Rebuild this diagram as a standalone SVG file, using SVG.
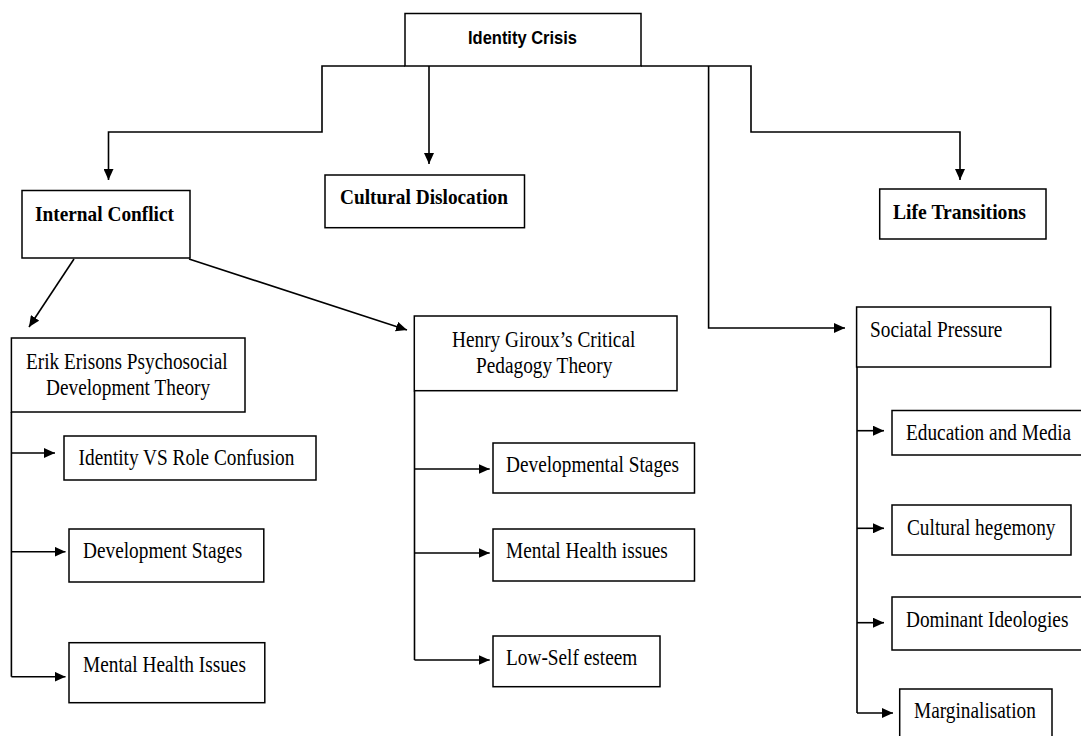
<svg xmlns="http://www.w3.org/2000/svg" width="1081" height="736" viewBox="0 0 1081 736">
<style>
.box{fill:#fff;stroke:#000;stroke-width:1.5}
.conn{fill:none;stroke:#000;stroke-width:1.6;marker-end:url(#arr)}
.line{fill:none;stroke:#000;stroke-width:1.6}
.t{font-family:"Liberation Serif","Times New Roman",serif;font-size:23px;fill:#000}
.tb{font-family:"Liberation Serif","Times New Roman",serif;font-size:21.5px;font-weight:bold;fill:#000}
.ts{font-family:"Liberation Sans",Arial,sans-serif;font-size:19px;font-weight:bold;fill:#000}
</style>
<defs>
<marker id="arr" markerUnits="userSpaceOnUse" markerWidth="11" markerHeight="10" refX="11" refY="5" orient="auto">
<path d="M0,0 L11,5 L0,10 z" fill="#000"/>
</marker>
</defs>
<rect width="1081" height="736" fill="#fff"/>
<g id="connectors">
<path class="conn" d="M405,66 H322 V132 H108.5 V180"/>
<path class="conn" d="M429,66 V164"/>
<path class="conn" d="M641,66 H751 V132 H960 V180"/>
<path class="conn" d="M708.6,66 V328 H845"/>
<path class="conn" d="M74,259 L29,327"/>
<path class="conn" d="M189,259 L407,330"/>
<path class="line" d="M11.4,412 V676.7"/>
<path class="conn" d="M11.4,453 H55"/>
<path class="conn" d="M11.4,551.7 H65.5"/>
<path class="conn" d="M11.4,676.7 H65.5"/>
<path class="line" d="M414.5,391 V660"/>
<path class="conn" d="M414.5,469 H489.7"/>
<path class="conn" d="M414.5,553 H489.7"/>
<path class="conn" d="M414.5,660 H489.7"/>
<path class="line" d="M857,367 V713"/>
<path class="conn" d="M857,430.7 H884"/>
<path class="conn" d="M857,528.3 H884"/>
<path class="conn" d="M857,622.7 H884"/>
<path class="conn" d="M857,713 H893"/>
</g>
<g id="identity-crisis">
<rect class="box" x="405" y="13.5" width="236" height="52.5"/>
<text class="ts" x="468" y="44" textLength="109" lengthAdjust="spacingAndGlyphs">Identity Crisis</text>
</g>
<g id="internal-conflict">
<rect class="box" x="22" y="190.5" width="168" height="67.5"/>
<text class="tb" x="35" y="221" textLength="139" lengthAdjust="spacingAndGlyphs">Internal Conflict</text>
</g>
<g id="cultural-dislocation">
<rect class="box" x="325" y="175" width="199.5" height="52.7"/>
<text class="tb" x="340" y="204" textLength="168" lengthAdjust="spacingAndGlyphs">Cultural Dislocation</text>
</g>
<g id="life-transitions">
<rect class="box" x="879.7" y="189" width="166.3" height="50"/>
<text class="tb" x="893" y="219" textLength="133" lengthAdjust="spacingAndGlyphs">Life Transitions</text>
</g>
<g id="erik">
<rect class="box" x="11.4" y="338" width="233.6" height="74"/>
<text class="t" transform="matrix(0.84 0 0 1 26 369)">Erik Erisons Psychosocial</text>
<text class="t" transform="matrix(0.84 0 0 1 46 395)">Development Theory</text>
</g>
<g id="henry">
<rect class="box" x="414.3" y="316" width="262.7" height="74.7"/>
<text class="t" transform="matrix(0.84 0 0 1 452 347)">Henry Giroux’s Critical</text>
<text class="t" transform="matrix(0.84 0 0 1 476 373)">Pedagogy Theory</text>
</g>
<g id="sociatal">
<rect class="box" x="856.6" y="307" width="194.1" height="60"/>
<text class="t" transform="matrix(0.84 0 0 1 870 337)">Sociatal Pressure</text>
</g>
<g id="identity-vs-role">
<rect class="box" x="64" y="436" width="252" height="44"/>
<text class="t" transform="matrix(0.84 0 0 1 78.6 465)">Identity VS Role Confusion</text>
</g>
<g id="development-stages">
<rect class="box" x="69" y="529" width="194.8" height="53"/>
<text class="t" transform="matrix(0.84 0 0 1 83 558)">Development Stages</text>
</g>
<g id="mental-health-issues-erik">
<rect class="box" x="69" y="642.7" width="195.8" height="60"/>
<text class="t" transform="matrix(0.84 0 0 1 83 672)">Mental Health Issues</text>
</g>
<g id="developmental-stages">
<rect class="box" x="493" y="443" width="201.5" height="50"/>
<text class="t" transform="matrix(0.84 0 0 1 506 472)">Developmental Stages</text>
</g>
<g id="mental-health-issues-henry">
<rect class="box" x="493" y="529" width="201.5" height="52"/>
<text class="t" transform="matrix(0.84 0 0 1 506 558)">Mental Health issues</text>
</g>
<g id="low-self-esteem">
<rect class="box" x="493" y="636" width="167" height="50.7"/>
<text class="t" transform="matrix(0.84 0 0 1 506 665)">Low-Self esteem</text>
</g>
<g id="education-media">
<rect class="box" x="892" y="410.5" width="200" height="44.5"/>
<text class="t" transform="matrix(0.84 0 0 1 906 439.5)">Education and Media</text>
</g>
<g id="cultural-hegemony">
<rect class="box" x="892" y="505" width="179" height="50"/>
<text class="t" transform="matrix(0.84 0 0 1 907 535)">Cultural hegemony</text>
</g>
<g id="dominant-ideologies">
<rect class="box" x="892" y="597" width="200" height="53"/>
<text class="t" transform="matrix(0.84 0 0 1 906 627)">Dominant Ideologies</text>
</g>
<g id="marginalisation">
<rect class="box" x="899.7" y="689" width="152.3" height="60"/>
<text class="t" transform="matrix(0.84 0 0 1 914 718)">Marginalisation</text>
</g>
</svg>
